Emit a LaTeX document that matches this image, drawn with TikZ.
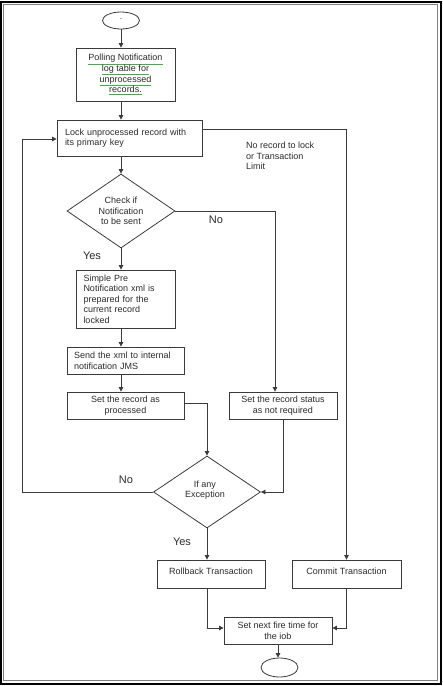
\documentclass[tikz,border=0pt]{standalone}
\usepackage{fontspec}
\setmainfont{Liberation Sans}
\usetikzlibrary{shapes.geometric,arrows.meta}
\definecolor{ln}{HTML}{3A3A3A}
\definecolor{tx}{HTML}{2A2A2A}
\definecolor{gl}{HTML}{3CB043}
\newcommand\gul[1]{\textcolor{gl}{\underline{\textcolor{tx}{#1}}}}
\tikzset{
  box/.style={draw=ln, line width=0.8pt, rectangle, inner sep=0pt, text=tx,
    font=\fontsize{9}{10.6}\selectfont},
  dia/.style={draw=ln, line width=0.8pt, diamond, inner sep=0pt},
  oval/.style={draw=ln, line width=0.8pt, ellipse, inner sep=0pt, text=tx,
    font=\fontsize{9}{10.6}\selectfont},
  txt/.style={text=tx, inner sep=0pt, font=\fontsize{9}{10.6}\selectfont},
  lbl/.style={text=tx, inner sep=0pt, font=\fontsize{11}{13}\selectfont},
  conn/.style={draw=ln, line width=0.8pt},
  arr/.style={conn, -{Triangle[length=4.5pt,width=4.5pt]}},
}
\begin{document}
\begin{tikzpicture}[x=1pt,y=-1pt]
\useasboundingbox (0,0) rectangle (443,686);
% frame
\draw[black, line width=1.6pt] (1.2,2.2) rectangle (441,684);
\draw[gray, line width=1.2pt] (3.6,4.6) rectangle (437.6,680.6);

% nodes
\node[oval, minimum width=37pt, minimum height=17pt] (start) at (121,20.5) {\raisebox{-2pt}{·}};
\node[box, minimum width=99pt, minimum height=53pt, align=center] (poll) at (125.5,74.5)
  {\gul{Polling Notification}\\ \gul{log table for}\\ \gul{unprocessed}\\ \gul{records.}};
\node[box, minimum width=145pt, minimum height=36pt, text width=129pt, align=left] (lock) at (129.5,138)
  {Lock unprocessed record with\\ its primary key\\[3pt]};
\node[dia, minimum width=108pt, minimum height=74pt] (check) at (121,211) {};
\node[txt, align=center] (checkt) at (121,211) {Check if\\ Notification\\ to be sent};
\node[box, minimum width=99pt, minimum height=58pt, text width=84pt, align=left] (simple) at (125.5,299)
  {Simple Pre\\ Notification xml is\\ prepared for the\\ current record\\ locked};
\node[box, minimum width=117pt, minimum height=27pt, text width=103pt, align=left] (send) at (125.5,360.5)
  {Send the xml to internal\\ notification JMS};
\node[box, minimum width=117pt, minimum height=27pt, align=center] (proc) at (125.5,405.5)
  {Set the record as\\ processed};
\node[box, minimum width=108pt, minimum height=27pt, align=center] (status) at (283,405.5)
  {Set the record status\\ as not required};
\node[dia, minimum width=107pt, minimum height=72pt] (exc) at (207,492) {};
\node[txt, align=center] (exct) at (205,490) {If any\\ Exception};
\node[box, minimum width=108pt, minimum height=28pt] (roll) at (211,574) {\raisebox{5pt}{Rollback Transaction}};
\node[box, minimum width=109pt, minimum height=28pt] (commit) at (346.5,574) {\raisebox{5pt}{Commit Transaction}};
\node[box, minimum width=108pt, minimum height=27pt, align=center] (fire) at (278,630.5)
  {Set next fire time for\\ the iob};
\node[oval, minimum width=37pt, minimum height=19pt] (end) at (279.5,667.5) {};

% labels
\node[txt, anchor=north west, align=left] (nolock) at (246,142)
  {No record to lock\\ or Transaction\\ Limit};
\node[lbl] (no1) at (216,220) {No};
\node[lbl] (yes1) at (92,256) {Yes};
\node[lbl] (no2) at (126,480) {No};
\node[lbl] (yes2) at (182,542) {Yes};

\coordinate (loop) at (22,139);

% connectors
\draw[arr] (start.south) -- (start.south |- poll.north);
\draw[arr] (start.south |- poll.south) -- (start.south |- lock.north);
\draw[arr] (check.north |- lock.south) -- (check.north);
\draw[arr] (check.east) -| ([xshift=-8pt]status.north);
\draw[arr] (check.south) -- (check.south |- simple.north);
\draw[arr] (check.south |- simple.south) -- (check.south |- send.north);
\draw[arr] (check.south |- send.south) -- (check.south |- proc.north);
\draw[arr] ([yshift=2.5pt]proc.east) -| (exc.north);
\draw[arr] (status.south) |- (exc.east);
\draw[arr] (exc.west) -| (loop) -- (loop -| lock.west);
\draw[arr] ([yshift=9pt]lock.east) -| (commit.north);
\draw[arr] (exc.south) -- (exc.south |- roll.north);
\draw[arr] (exc.south |- roll.south) |- ([yshift=2.5pt]fire.west);
\draw[arr] (commit.south) |- ([yshift=2.5pt]fire.east);
\draw[arr] (fire.south) -- (fire.south |- end.north);
\end{tikzpicture}
\end{document}
